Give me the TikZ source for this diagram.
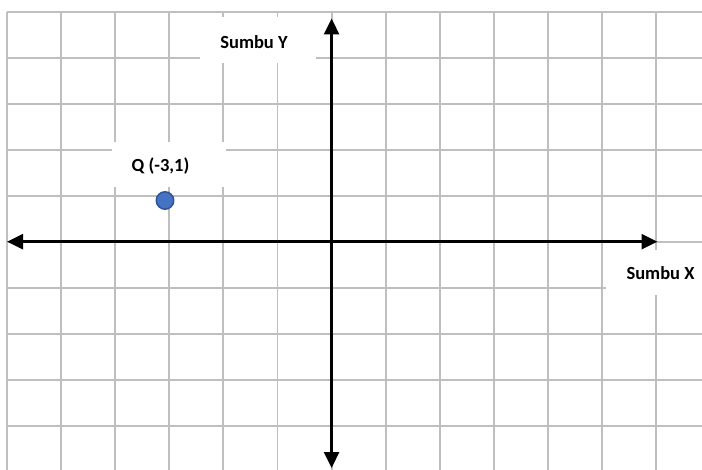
\documentclass[tikz,border=0pt]{standalone}
\usepackage{fontspec}
\setmainfont{Carlito}
\usetikzlibrary{arrows.meta}
\definecolor{gridgray}{HTML}{BFBFBF}
\definecolor{dotfill}{HTML}{4472C4}
\definecolor{dotedge}{HTML}{2F528F}
\tikzset{
  gridline/.style={draw=gridgray, line width=1.9pt},
  axisline/.style={draw=black, line width=2.6pt, -{Triangle[length=16pt,width=15pt]}},
  whitebox/.style={fill=white, draw=none},
  labeltext/.style={inner sep=0pt, font=\fontsize{18.5}{20}\selectfont\bfseries},
  pointdot/.style={circle, fill=dotfill, draw=dotedge, line width=1.4pt, minimum size=17.5pt, inner sep=0pt}
}
\begin{document}
\begin{tikzpicture}[x=1pt,y=-1pt]
\useasboundingbox (0,0) rectangle (702,470);
% grid
\foreach \i in {0,...,12} {
  \draw[gridline] ({7+54.1*\i},11.7) -- ({7+54.1*\i},470);
}
\foreach \j in {0,...,9} {
  \draw[gridline] (7,{11.7+46*\j}) -- (702,{11.7+46*\j});
}
% label boxes
\fill[whitebox] (200,17) rectangle (316,63);
\fill[whitebox] (112,142) rectangle (226,187);
\fill[whitebox] (606,250) rectangle (702,295);
\node[labeltext] (ylab) at (254,42) {Sumbu Y};
\node[labeltext] (qlab) at (160.5,166) {Q (-3,1)};
\node[labeltext] (xlab) at (660.5,273) {Sumbu X};
% axes
\coordinate (O) at (331.6,241.7);
\coordinate (xl) at (7,241.7);
\coordinate (xr) at (657.5,241.7);
\coordinate (yt) at (331.6,18.5);
\coordinate (yb) at (331.6,468);
\draw[axisline] (O) -- (xl);
\draw[axisline] (O) -- (xr);
\draw[axisline] (O) -- (yt);
\draw[axisline] (O) -- (yb);
% point
\node[pointdot] (Q) at (165,200.5) {};
\end{tikzpicture}
\end{document}
